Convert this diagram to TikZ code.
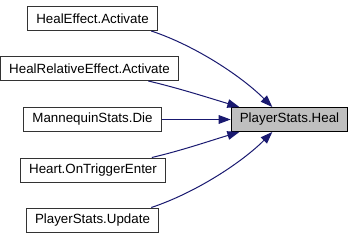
\documentclass[tikz,border=0pt]{standalone}
\usepackage{fontspec}
\setmainfont{Liberation Sans}
\usetikzlibrary{arrows.meta}
\definecolor{midnightblue}{RGB}{25,25,112}
\definecolor{selgray}{RGB}{191,191,191}
\tikzset{>={Triangle[length=9pt,width=6.5pt]}}
\tikzset{
  fnbox/.style={draw=black!80, line width=0.75pt, fill=white,
    inner xsep=6.5pt, minimum height=18pt,
    font=\fontsize{10}{12}\selectfont},
  fnself/.style={fnbox, draw=black, fill=selgray},
  calls/.style={->, draw=midnightblue, line width=0.75pt}
}

\begin{document}
\begin{tikzpicture}[x=0.75pt,y=-0.75pt]
    \useasboundingbox (0,0) rectangle (355,240);
    % callers on the left
    \node[fnbox](he) at (92.5,18.5) {HealEffect.Activate};
    \node[fnbox](hr) at (89.5,68.5) {HealRelativeEffect.Activate};
    \node[fnbox](md) at (92.5,119.5) {MannequinStats.Die};
    \node[fnbox](ht) at (93,170) {Heart.OnTriggerEnter};
    \node[fnbox](pu) at (92.5,220) {PlayerStats.Update};
    % the called function
    \node[fnself](heal) at (289.5,119.5) {PlayerStats.Heal};

    \draw[calls] (he.-12) .. controls +(45,15) and +(-30,-30) .. (heal.144);
    \draw[calls] (hr.-12) .. controls +(30,7) and +(-30,-9) .. (heal.166);
    \draw[calls] (md.east) -- (heal.west);
    \draw[calls] (ht.12) .. controls +(30,-7) and +(-30,9) .. (heal.194);
    \draw[calls] (pu.12) .. controls +(45,-15) and +(-30,30) .. (heal.216);
\end{tikzpicture}
\end{document}
